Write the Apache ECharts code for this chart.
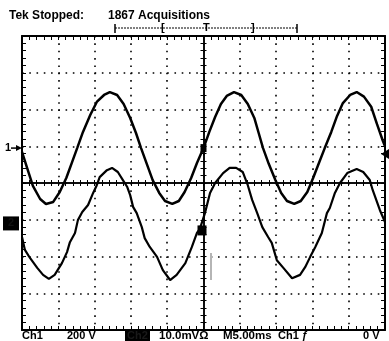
<!DOCTYPE html>
<html><head><meta charset="utf-8">
<script src="https://cdn.jsdelivr.net/npm/echarts@6/dist/echarts.min.js"></script>
<style>html,body{margin:0;padding:0;background:#fff}#c{width:389px;height:341px}</style>
</head><body><div id="c"></div>
<script>
// Channel 1: time (ms, relative to trigger) and volts
const ch1TimeMs = [-25.0,-24.3,-23.5,-22.5,-21.7,-20.7,-19.8,-18.9,-18.1,-17.4,-16.6,-15.6,-14.7,-13.7,-12.9,-11.9,-11.0,-10.1,-9.3,-8.6,-7.8,-7.0,-6.1,-5.3,-4.3,-3.4,-2.6,-1.7,-0.9,0,0.8,1.6,2.4,3.2,4.2,5.2,6.1,7.0,7.6,8.2,9.0,9.9,10.7,11.5,12.5,13.4,14.3,15.1,15.9,16.7,17.6,18.4,19.2,20.2,21.1,22.1,23.1,23.9,24.7,25.0];
const ch1Volts = [-21,-108,-206,-277,-304,-293,-239,-163,-76,0,88,180,251,289,305,289,240,164,82,0,-87,-174,-244,-288,-304,-288,-239,-163,-81,0,88,169,240,284,305,289,240,164,82,0,-87,-174,-244,-288,-304,-288,-239,-163,-81,0,88,175,245,289,305,280,225,130,40,10];
// Channel 2: time (ms) and millivolts
const ch2TimeMs = [-25.0,-24.6,-23.9,-22.9,-22.1,-21.3,-20.5,-19.5,-18.8,-18.4,-17.7,-17.3,-16.7,-15.9,-15.2,-14.7,-14.3,-13.3,-12.6,-11.8,-11.1,-10.5,-10.1,-9.7,-9.2,-8.5,-8.1,-7.4,-6.4,-5.6,-4.6,-3.7,-2.5,-1.6,-0.9,-0.5,0.2,0.9,1.6,2.7,3.6,4.5,5.4,6.1,6.7,7.4,8.1,8.9,9.4,10.1,11.0,12.2,13.3,14.0,14.7,15.4,16.3,17.0,17.4,18.1,18.8,19.8,21.1,22.0,22.9,23.3,24.3,25.0];
const ch2MilliVolts = [-3.7,-7.2,-9.4,-12.1,-14.0,-15.1,-14.0,-10.8,-7.8,-5.1,-2.6,0.9,3.1,5.0,8.3,10.4,12.6,14.5,15.1,14.0,11.8,9.9,7.7,4.5,2.8,-1.0,-4.0,-6.4,-9.1,-12.7,-15.4,-14.0,-10.8,-6.4,-2.6,-1.5,2.8,8.3,11.0,13.7,15.1,15.1,14.0,10.4,6.4,2.8,-1.0,-3.7,-5.3,-10.0,-12.1,-14.9,-14.0,-11.9,-9.1,-6.4,-2.6,2.8,4.2,8.3,11.0,13.7,14.8,14.0,11.8,9.1,3.6,0.4];
const ch1VoltsPerDiv = 200;
const ch2MilliVoltsPerDiv = 10;
const ch1GroundDiv = 0.95;
const ch2GroundDiv = -1.1;
const topReadout = ['Tek Stopped:', '1867 Acquisitions'];
const bottomReadout = ['Ch1', '200 V', 'Ch2', '10.0mV\u03A9', 'M5.00ms', 'Ch1 \u0192', '0 V'];

const FONT = 'bold 11px "Liberation Sans", Arial, sans-serif';
const FONT_TOP = 'bold 12px "Liberation Sans", Arial, sans-serif';
const chart = echarts.init(document.getElementById('c'), null, {renderer: 'canvas'});

function xAx(pos, onZero, len, split) {
  return {type: 'value', min: -25, max: 25, interval: 5, position: pos,
    axisLine: {show: true, onZero: onZero, onZeroAxisIndex: 0, lineStyle: {color: '#000', width: onZero ? 1.5 : 2}},
    axisTick: {show: true, inside: true, length: len, lineStyle: {color: '#000', width: 1}},
    minorTick: {show: true, splitNumber: 5, length: len, lineStyle: {color: '#000', width: 1}},
    axisLabel: {show: false},
    splitLine: {show: split, lineStyle: {color: '#000', width: 1.6, type: [1.6, 5.75]}},
    minorSplitLine: {show: false}};
}
function yAx(pos, onZero, len, split) {
  return {type: 'value', min: -4, max: 4, interval: 1, position: pos,
    axisLine: {show: true, onZero: onZero, onZeroAxisIndex: 0, lineStyle: {color: '#000', width: onZero ? 1.5 : 2}},
    axisTick: {show: true, inside: true, length: len, lineStyle: {color: '#000', width: 1}},
    minorTick: {show: true, splitNumber: 5, length: len, lineStyle: {color: '#000', width: 1}},
    axisLabel: {show: false},
    splitLine: {show: split, lineStyle: {color: '#000', width: 1.6, type: [1.6, 5.66]}},
    minorSplitLine: {show: false}};
}

const ch1Data = ch1TimeMs.map((t, i) => [t, ch1GroundDiv + ch1Volts[i] / ch1VoltsPerDiv]);
const ch2Data = ch2TimeMs.map((t, i) => [t, ch2GroundDiv + ch2MilliVolts[i] / ch2MilliVoltsPerDiv]);

chart.setOption({
  animation: false,
  backgroundColor: '#fff',
  grid: {left: 22, right: 4, top: 36, height: 294, show: false, outerBoundsMode: 'none', containLabel: false},
  xAxis: [xAx('bottom', false, 4, true), xAx('top', false, 4, false), xAx('bottom', true, 3, false), xAx('top', true, 3, false)],
  yAxis: [yAx('left', false, 4, true), yAx('right', false, 4, false), yAx('left', true, 3, false), yAx('right', true, 3, false)],
  series: [
    {name: 'Ch1', type: 'line', data: ch1Data, showSymbol: false, symbol: 'none', lineStyle: {color: '#000', width: 2.5}, z: 5},
    {name: 'Ch2', type: 'line', data: ch2Data, showSymbol: false, symbol: 'none', lineStyle: {color: '#000', width: 2.2}, z: 5}
  ]
});

const y1 = chart.convertToPixel({yAxisIndex: 0}, ch1GroundDiv);
const y2 = chart.convertToPixel({yAxisIndex: 0}, ch2GroundDiv);
const xT = chart.convertToPixel({xAxisIndex: 0}, 0);
const xR = chart.convertToPixel({xAxisIndex: 0}, 25);

function txt(s, x, y, extra, font) {
  return Object.assign({type: 'text', x: x, y: y, z: 20, style: {text: s, font: font || FONT, fill: '#000', textVerticalAlign: 'middle'}}, extra || {});
}

const g = [
  txt(topReadout[0], 9, 16, null, FONT_TOP),
  txt(topReadout[1], 108, 16, null, FONT_TOP),
  // record view bar
  {type: 'line', z: 20, shape: {x1: 115, y1: 28, x2: 297, y2: 28}, style: {stroke: '#000', lineWidth: 1, lineDash: [2, 1]}},
  {type: 'line', z: 20, shape: {x1: 115, y1: 24, x2: 115, y2: 33}, style: {stroke: '#000', lineWidth: 1.5}},
  {type: 'line', z: 20, shape: {x1: 297, y1: 24, x2: 297, y2: 33}, style: {stroke: '#000', lineWidth: 1.5}},
  txt('[', 161, 28),
  txt('T', 203, 28),
  txt(']', 251, 28),
  // ch1 ground marker
  txt('1', 5, y1),
  {type: 'line', z: 20, shape: {x1: 11, y1: y1, x2: 20, y2: y1}, style: {stroke: '#000', lineWidth: 1.5}},
  {type: 'polygon', z: 20, shape: {points: [[16, y1 - 3], [22, y1], [16, y1 + 3]]}, style: {fill: '#000'}},
  // ch2 ground marker
  {type: 'rect', z: 20, shape: {x: 3, y: y2 - 7, width: 16, height: 14}, style: {fill: '#000'}},
  txt('2', 8, y2, {style: {text: '2', font: FONT, fill: '#111', textVerticalAlign: 'middle'}}),
  // trigger blobs & level
  {type: 'rect', z: 20, shape: {x: xT - 6, y: y2 + 2, width: 9, height: 10}, style: {fill: '#000'}},
  {type: 'rect', z: 20, shape: {x: xT - 3, y: y1 - 4, width: 6, height: 8}, style: {fill: '#000'}},
  {type: 'polygon', z: 20, shape: {points: [[xR + 4, y1 + 1], [xR - 4, y1 + 6], [xR + 4, y1 + 11]]}, style: {fill: '#000'}},
  {type: 'line', z: 20, shape: {x1: 211, y1: 253, x2: 211, y2: 280}, style: {stroke: '#b5b5b5', lineWidth: 2}},
  // bottom readout
  txt(bottomReadout[0], 22, 336),
  txt(bottomReadout[1], 67, 336),
  {type: 'rect', z: 19, shape: {x: 125, y: 331, width: 25, height: 10}, style: {fill: '#000'}},
  txt(bottomReadout[2], 127, 336, {style: {text: bottomReadout[2], font: FONT, fill: '#1a1a1a', textVerticalAlign: 'middle'}}),
  txt(bottomReadout[3], 159, 336, null, 'bold 11.5px "Liberation Sans", Arial, sans-serif'),
  txt(bottomReadout[4], 223, 336, null, 'bold 11.5px "Liberation Sans", Arial, sans-serif'),
  txt(bottomReadout[5], 278, 336),
  txt(bottomReadout[6], 363, 336)
];
chart.setOption({graphic: {elements: g}});
</script>
</body></html>
